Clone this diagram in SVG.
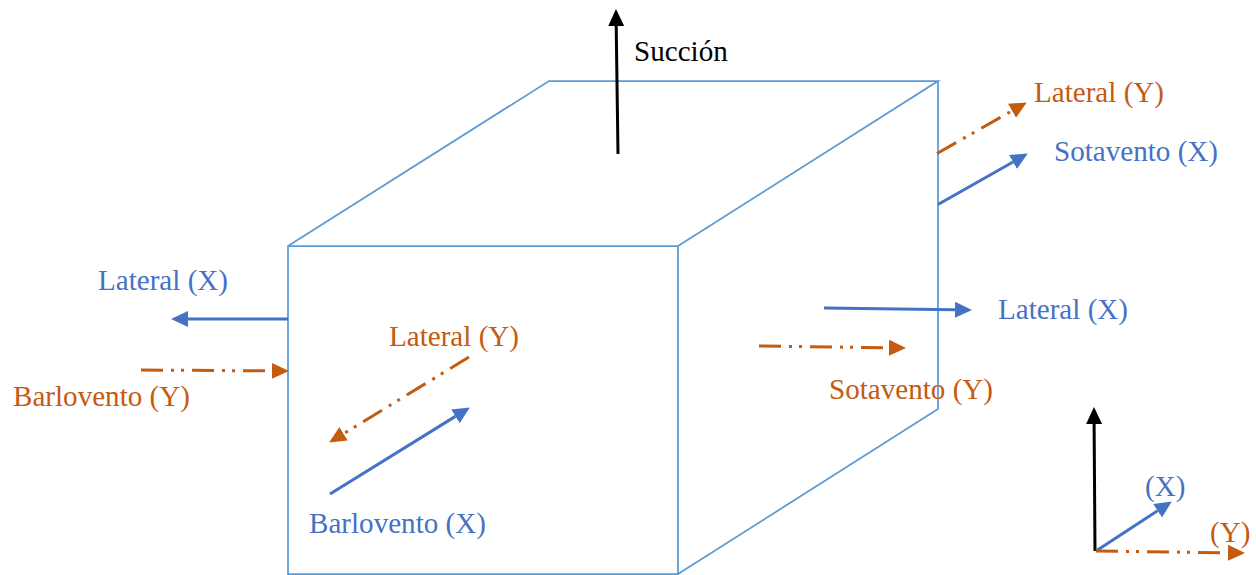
<svg xmlns="http://www.w3.org/2000/svg" width="1256" height="575" viewBox="0 0 1256 575">
<style>
text{font-family:"Liberation Serif","Times New Roman",serif;font-size:29.1px}
.b{fill:#4472C4}.o{fill:#C55A11}.k{fill:#000}
.cube{fill:none;stroke:#5B9BD5;stroke-width:1.75;stroke-linejoin:miter}
line{fill:none}
.lb{stroke:#4472C4;stroke-width:3;marker-end:url(#ab)}
.lo{stroke:#C55A11;stroke-width:3;stroke-dasharray:22 8 3 7 3 8;marker-end:url(#ao)}
.lk{stroke:#000;stroke-width:3;marker-end:url(#ak)}
</style>
<defs>
<marker id="ab" markerUnits="userSpaceOnUse" markerWidth="17" markerHeight="18" refX="0" refY="9" orient="auto"><path d="M0 1L17 9L0 17Z" fill="#4472C4"/></marker>
<marker id="ao" markerUnits="userSpaceOnUse" markerWidth="17" markerHeight="18" refX="0" refY="9" orient="auto"><path d="M0 1L17 9L0 17Z" fill="#C55A11"/></marker>
<marker id="ak" markerUnits="userSpaceOnUse" markerWidth="17" markerHeight="18" refX="0" refY="9" orient="auto"><path d="M0 1L17 9L0 17Z" fill="#000"/></marker>
</defs>
<rect width="1256" height="575" fill="#fff"/>
<g id="cube">
<path class="cube" d="M288 246H678V574H288Z"/>
<path class="cube" d="M288 246L549 81H938L678 246"/>
<path class="cube" d="M938 81V409L678 574"/>
</g>
<g id="connectors">
<line class="lk" x1="618" y1="154" x2="616.2" y2="26"/>
<line class="lo" x1="937" y1="153.5" x2="1012" y2="110.8"/>
<line class="lb" x1="938" y1="204.5" x2="1013" y2="162"/>
<line class="lb" x1="288" y1="319" x2="188" y2="319"/>
<line class="lo" x1="141" y1="370" x2="272" y2="370.9"/>
<line class="lo" x1="469" y1="357" x2="343.6" y2="433.7"/>
<line class="lb" x1="330" y1="494" x2="455.4" y2="416.4"/>
<line class="lb" x1="824" y1="308" x2="955" y2="309.8"/>
<line class="lo" x1="759" y1="346" x2="889" y2="347.8"/>
<line class="lk" x1="1095" y1="551" x2="1094.1" y2="424"/>
<line class="lb" x1="1096" y1="551" x2="1157.6" y2="510.8"/>
<line class="lo" x1="1096" y1="551" x2="1228" y2="552.8"/>
</g>
<g id="label-succion"><text class="k" x="634" y="61">Succión</text></g>
<g id="label-lateral-y-right"><text class="o" x="1034" y="102">Lateral (Y)</text></g>
<g id="label-sotavento-x"><text class="b" x="1054" y="161">Sotavento (X)</text></g>
<g id="label-lateral-x-left"><text class="b" x="98" y="290">Lateral (X)</text></g>
<g id="label-barlovento-y"><text class="o" x="13" y="406">Barlovento (Y)</text></g>
<g id="label-lateral-y-inner"><text class="o" x="389" y="346">Lateral (Y)</text></g>
<g id="label-barlovento-x"><text class="b" x="309" y="533">Barlovento (X)</text></g>
<g id="label-lateral-x-right"><text class="b" x="998" y="319">Lateral (X)</text></g>
<g id="label-sotavento-y"><text class="o" x="829" y="399">Sotavento (Y)</text></g>
<g id="label-axis-x"><text class="b" x="1145" y="496">(X)</text></g>
<g id="label-axis-y"><text class="o" x="1210" y="542">(Y)</text></g>
</svg>
